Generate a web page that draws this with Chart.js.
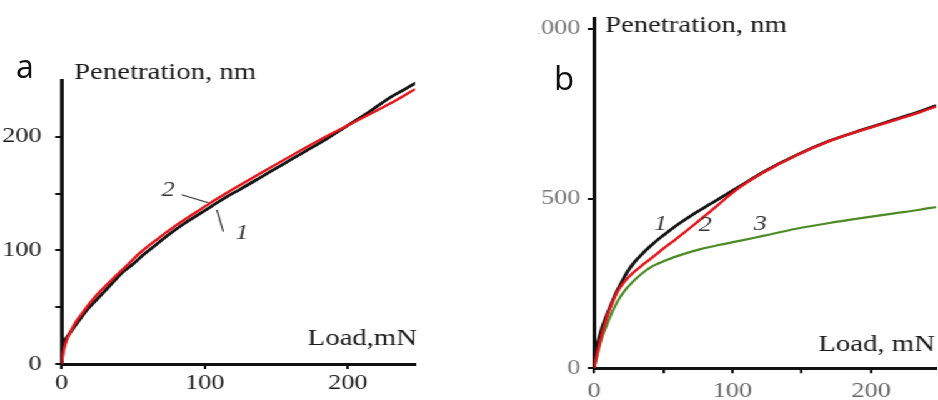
<!DOCTYPE html>
<html>
<head>
<meta charset="utf-8">
<script src="https://cdn.jsdelivr.net/npm/chart.js@4.4.0/dist/chart.umd.min.js"></script>
<style>
  html, body { margin: 0; padding: 0; background: #fff; }
  body { width: 938px; height: 400px; position: relative; overflow: hidden; }
  /* the source figure is stretched sideways, so the whole plot is too */
  #stretch { position: absolute; left: 0; top: 0; width: 750.4px; height: 400px; transform: scaleX(1.25); transform-origin: 0 0; }
  .box { position: absolute; top: 0; height: 400px; }
  #boxA { left: 0; width: 345px; }
  #boxB { left: 430px; width: 320.4px; }
  .panel { position: absolute; font-family: 'Open Sans', sans-serif; color: #111; line-height: 1; }
</style>
</head>
<body>
<div id="stretch">
  <div class="box" id="boxA"><canvas id="chartA"></canvas></div>
  <div class="box" id="boxB"><canvas id="chartB"></canvas></div>
</div>
<div class="panel" style="left:16px; top:50px; font-size:32px">a</div>
<div class="panel" style="left:554px; top:61px; font-size:33px">b</div>
<script>
// Panel a: curve 1 (black) and curve 2 (red), load in mN, penetration in nm
const loadA1 = [0, 1, 2, 4, 8, 12, 18, 24, 30, 36, 42, 50, 58, 66, 75, 85, 95, 105, 115, 125, 140, 155, 170, 185, 200, 215, 230, 240, 248]
const penA1 = [0, 14, 20, 24, 31, 38, 48, 56, 64, 72, 80, 88, 97, 105, 114, 123, 131, 139, 147, 154, 165, 176, 187, 198, 210, 222, 235, 242, 248]
const loadA2 = [0, 1, 2.5, 5, 9, 14, 20, 27, 35, 45, 55, 67, 80, 92, 103, 120, 139, 160, 180, 200, 220, 235, 247]
const penA2 = [0, 9, 17, 25, 35, 44, 54, 64, 74, 86, 98, 110, 122, 132, 141, 154, 168, 183, 197, 210, 223, 233, 242]

// Panel b: curves 1 (black), 2 (red), 3 (green)
const loadB1 = [0, 1, 2.5, 5, 9, 12.5, 16, 20, 24, 29, 35, 41, 47, 53, 59, 65, 71, 77, 83, 89, 97, 106, 122, 146, 170, 194, 218, 235, 247]
const penB1 = [0, 40, 70, 110, 155, 190, 223, 254, 284, 312, 338, 361, 382, 401, 419, 436, 452, 467, 482, 496, 516, 538, 578, 628, 670, 703, 734, 756, 774]
const loadB2 = [0, 2, 4, 7, 10, 13.5, 17, 22, 27, 34, 41, 48, 56, 64, 72, 80, 89, 97, 106, 122, 146, 170, 194, 218, 235, 247]
const penB2 = [0, 38, 73, 118, 160, 196, 226, 255, 277, 301, 323, 346, 371, 396, 422, 449, 479, 507, 535, 576, 627, 669, 702, 732, 754, 771]
const loadB3 = [0, 2.5, 5, 9, 12.5, 17, 22, 28, 34, 42, 53, 65, 77, 90, 106, 122, 146, 170, 194, 218, 235, 247]
const penB3 = [0, 42, 82, 125, 160, 197, 228, 255, 277, 300, 320, 337, 351, 363, 376, 390, 411, 428, 443, 457, 467, 475]

// Tick values, and which of them get a label
const ticksAX = [0, 100, 200]
const ticksAY = [0, 50, 100, 150, 200]
const labelsAY = [0, 100, 200]
const ticksBX = [0, 50, 100, 150, 200]
const labelsBX = [0, 100, 200]
const ticksBY = [0, 500, 1000]

// Curve numbers, placed in data units
const curveNumsA = [{ text: "2", x: 74.5, y: 153 }, { text: "1", x: 126, y: 114.5 }]
const leadersA = [[84, 149, 102.5, 142], [108.5, 135.7, 113, 116.6]]
const curveNumsB = [{ text: "1", x: 48, y: 423 }, { text: "2", x: 80.4, y: 420 }, { text: "3", x: 120, y: 423 }]

const serif = "'Liberation Serif', 'Times New Roman', serif"

function points(xs, ys) {
    return xs.map((x, i) => ({ x: x, y: ys[i] }))
}

function lineSet(xs, ys, color, width, order) {
    return {
        data: points(xs, ys),
        borderColor: color,
        borderWidth: width,
        pointRadius: 0,
        cubicInterpolationMode: "monotone",
        fill: false,
        order: order
    }
}

/**
 * Build one axis
 */
function axis(max, tickList, labelList, size, labelColor, pad) {
    return {
        type: "linear",
        min: 0,
        max: max,
        afterBuildTicks: (s) => { s.ticks = tickList.map(v => ({ value: v })) },
        afterFit: (s) => {
            if (s.isHorizontal()) s.height = size
            else s.width = size
        },
        ticks: {
            autoSkip: false,
            maxRotation: 0,
            padding: pad,
            color: labelColor,
            font: { family: serif, size: 21 },
            callback: (v) => labelList.includes(v) ? String(v) : ""
        },
        grid: { drawOnChartArea: false, drawTicks: true, tickLength: 5, color: "#111", lineWidth: 2 },
        border: { display: true, color: "#111", width: 3 }
    }
}

// Writes the axis titles, the curve numbers and the leader lines
function textPlugin(cfg) {
    return {
        id: "panelText",
        afterDatasetsDraw(chart) {
            const c = chart.ctx
            const a = chart.chartArea
            const sx = chart.scales.x
            const sy = chart.scales.y
            c.save()
            c.fillStyle = "#1a1a1a"
            c.font = "23px " + serif
            c.textBaseline = "alphabetic"
            c.textAlign = "left"
            c.fillText("Penetration, nm", a.left + cfg.yTitleDx, a.top + cfg.yTitleDy)
            c.textAlign = "right"
            c.fillText(cfg.xTitle, a.right + cfg.xTitleDx, a.bottom + cfg.xTitleDy)

            c.strokeStyle = "#333"
            c.lineWidth = 1.2
            cfg.leaders.forEach(l => {
                c.beginPath()
                c.moveTo(sx.getPixelForValue(l[0]), sy.getPixelForValue(l[1]))
                c.lineTo(sx.getPixelForValue(l[2]), sy.getPixelForValue(l[3]))
                c.stroke()
            })

            c.fillStyle = "#333"
            c.font = "italic 21px " + serif
            c.textAlign = "center"
            c.textBaseline = "middle"
            cfg.nums.forEach(n => {
                c.fillText(n.text, sx.getPixelForValue(n.x), sy.getPixelForValue(n.y))
            })
            c.restore()
        }
    }
}

new Chart(document.getElementById("chartA"), {
    type: "line",
    data: {
        datasets: [
            lineSet(loadA2, penA2, "#e8161b", 2.4, 0),
            lineSet(loadA1, penA1, "#151515", 2.8, 1)
        ]
    },
    options: {
        responsive: true,
        maintainAspectRatio: false,
        animation: false,
        layout: { padding: { top: 80, right: 13, left: 0, bottom: 0 } },
        plugins: { legend: { display: false }, tooltip: { enabled: false } },
        scales: {
            x: axis(247, ticksAX, ticksAX, 36, "#1a1a1a", 2),
            y: axis(250, ticksAY, labelsAY, 49.2, "#1a1a1a", 11)
        }
    },
    plugins: [textPlugin({
        xTitle: "Load,mN", xTitleDx: 1.6, xTitleDy: -19,
        yTitleDx: 10, yTitleDy: -1,
        nums: curveNumsA, leaders: leadersA
    })]
})

new Chart(document.getElementById("chartB"), {
    type: "line",
    data: {
        datasets: [
            lineSet(loadB2, penB2, "#e8161b", 2.4, 0),
            lineSet(loadB1, penB1, "#151515", 2.8, 1),
            lineSet(loadB3, penB3, "#4b8b25", 2.2, 2)
        ]
    },
    options: {
        responsive: true,
        maintainAspectRatio: false,
        animation: false,
        layout: { padding: { top: 15, right: 0, left: 0, bottom: 0 } },
        plugins: { legend: { display: false }, tooltip: { enabled: false } },
        scales: {
            x: axis(247, ticksBX, labelsBX, 31.7, "#666", 6),
            y: axis(1030, ticksBY, ticksBY, 45.2, "#777", 6)
        }
    },
    plugins: [textPlugin({
        xTitle: "Load, mN", xTitleDx: -1, xTitleDy: -17,
        yTitleDx: 8.8, yTitleDy: 13,
        nums: curveNumsB, leaders: []
    })]
})
</script>
</body>
</html>
